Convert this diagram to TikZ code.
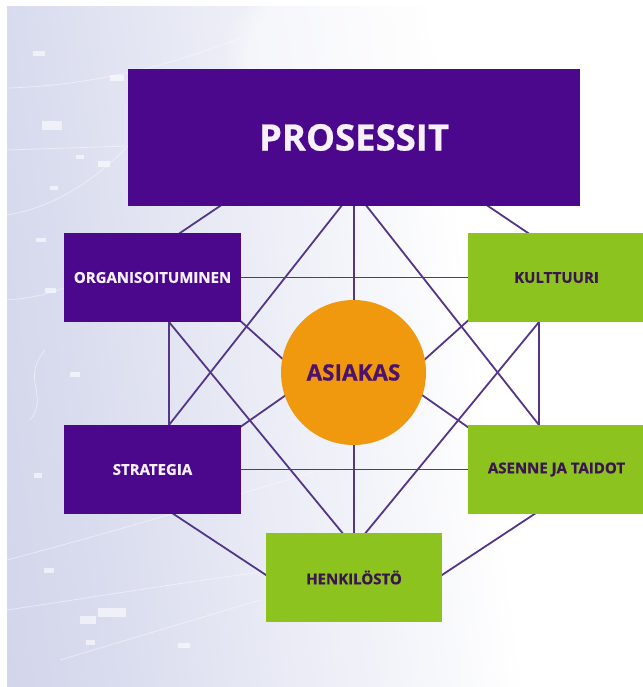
\documentclass[tikz,border=0pt]{standalone}
\usepackage{fontspec}
\setmainfont{Open Sans}[BoldFeatures={FakeBold=0.6}]
\usetikzlibrary{fadings}

\definecolor{boxpurple}{HTML}{4B088C}
\definecolor{boxgreen}{HTML}{8DC31E}
\definecolor{hubfill}{HTML}{F0990F}
\definecolor{linkcol}{HTML}{553587}
\definecolor{darktext}{HTML}{3A1550}
\definecolor{hubtext}{HTML}{4D136B}
\definecolor{paletext}{HTML}{F6F0FB}
\definecolor{lav}{HTML}{C2C6E1}
\definecolor{lavmid}{HTML}{D9DCEE}

\pgfdeclarehorizontalshading{backdrop}{100bp}{%
  color(0bp)=(lav); color(30bp)=(lavmid); color(62bp)=(white); color(100bp)=(white)}

\pgfdeclarelayer{behind}
\pgfsetlayers{behind,main}

\begin{document}
\begin{tikzpicture}[x=1pt,y=-1pt,
  link/.style={draw=linkcol, line width=1.8pt},
  glint/.style={fill=white, opacity=0.6},
  trace/.style={draw=white, opacity=0.5, line width=0.7pt},
  labelbox/.style={inner sep=0pt, minimum width=177pt, minimum height=89pt,
    font=\bfseries\fontsize{15}{17}\selectfont},
  purplebox/.style={labelbox, fill=boxpurple, text=paletext},
  greenbox/.style={labelbox, fill=boxgreen, text=darktext},
  hubnode/.style={circle, fill=hubfill, minimum size=145pt, inner sep=0pt,
    text=hubtext, font=\bfseries\fontsize{22.5}{25}\selectfont}]

\useasboundingbox (0,0) rectangle (642,687);

% boxes
\node[purplebox, minimum width=452pt, minimum height=137pt,
      font=\bfseries\fontsize{36.5}{40}\selectfont] (pros) at (354,137.5) {PROSESSIT};
\node[purplebox] (org)    at (152.5,277.5) {ORGANISOITUMINEN};
\node[greenbox]  (kult)   at (556.5,277.5) {KULTTUURI};
\node[purplebox] (strat)  at (152.5,469.5) {STRATEGIA};
\node[greenbox]  (asenne) at (556.5,469.5) {ASENNE JA TAIDOT};
\node[greenbox, minimum width=176pt] (henk) at (354,577.5) {HENKILÖSTÖ};
\node[hubnode] (asiakas) at (353.5,372.5) {ASIAKAS};

% junction points hidden inside the shapes
\coordinate (th) at (354,190);
\coordinate (bh) at (354,547);
\coordinate (lIn) at (157.2,440);
\coordinate (rIn) at (550.8,440);
\coordinate (lOut) at (150.9,300);
\coordinate (rOut) at (557.1,300);
\coordinate (lTop) at (169,300);
\coordinate (lBot) at (169,440);
\coordinate (rTop) at (539,300);
\coordinate (rBot) at (539,440);
\coordinate (pA) at (230,199.25);
\coordinate (oA) at (170,239.75);
\coordinate (pB) at (478,199.25);
\coordinate (kB) at (538,239.75);
\coordinate (sC) at (162.6,506.8);
\coordinate (hC) at (275.4,581.2);
\coordinate (aD) at (545.4,506.8);
\coordinate (hD) at (432.6,581.2);
\coordinate (oS) at (236,317);
\coordinate (sS) at (236,430);
\coordinate (kS) at (472,317);
\coordinate (aS) at (472,430);
\coordinate (cL1) at (306,380);
\coordinate (cL2) at (306,381);
\coordinate (cR1) at (402,380);
\coordinate (cR2) at (402,381);

\begin{pgfonlayer}{behind}
  % backdrop
  \fill[white] (0,0) rectangle (642,687);
  \shade[shading=backdrop, shading angle=8] (7,7) rectangle (642,687);
  \fill[white, path fading=circle with fuzzy edge 20 percent, opacity=0.45] (370,60) ellipse (150 and 110);

  % faint circuit traces and glints
  \draw[trace] (7,215) .. controls (70,205) and (120,160) .. (160,110);
  \draw[trace] (7,88) .. controls (80,86) and (160,70) .. (240,38);
  \draw[trace] (7,150) -- (130,146);
  \draw[trace] (7,300) .. controls (60,296) and (90,280) .. (120,245);
  \draw[trace] (30,420) .. controls (50,395) and (20,380) .. (45,350);
  \draw[trace] (7,560) .. controls (120,530) and (220,500) .. (320,470);
  \draw[trace] (7,610) .. controls (140,590) and (260,570) .. (360,560);
  \draw[trace] (60,660) -- (260,600);
  \fill[glint] (33,51) rectangle (45,56);
  \fill[glint] (110,75) rectangle (124,81);
  \fill[glint] (42,121) rectangle (62,130);
  \fill[glint] (76,155) rectangle (84,159);
  \fill[glint] (98,161) rectangle (110,167);
  \fill[glint] (50,186) rectangle (58,190);
  \fill[glint] (36,238) rectangle (46,242);
  \fill[glint] (45,288) rectangle (56,293);
  \fill[glint] (70,372) rectangle (80,377);
  \fill[glint] (34,473) rectangle (42,478);
  \fill[glint] (44,568) rectangle (54,573);
  \fill[glint] (80,616) rectangle (96,624);
  \fill[glint] (98,608) rectangle (126,617);
  \fill[glint] (86,640) rectangle (95,645);
  \fill[glint] (178,643) rectangle (190,648);

  % connectors
  \draw[link] (th) -- (bh);
  \draw[link] (th) -- (lIn);
  \draw[link] (th) -- (rIn);
  \draw[link] (lOut) -- (bh);
  \draw[link] (rOut) -- (bh);
  \draw[link] (lTop) -- (lBot);
  \draw[link] (rTop) -- (rBot);
  \draw[link] (pA) -- (oA);
  \draw[link] (pB) -- (kB);
  \draw[link] (sC) -- (hC);
  \draw[link] (aD) -- (hD);
  \draw[link] (org) -- (kult);
  \draw[link] (strat) -- (asenne);
  \draw[link] (oS) -- (cL1);
  \draw[link] (sS) -- (cL2);
  \draw[link] (kS) -- (cR1);
  \draw[link] (aS) -- (cR2);
\end{pgfonlayer}
\end{tikzpicture}
\end{document}
